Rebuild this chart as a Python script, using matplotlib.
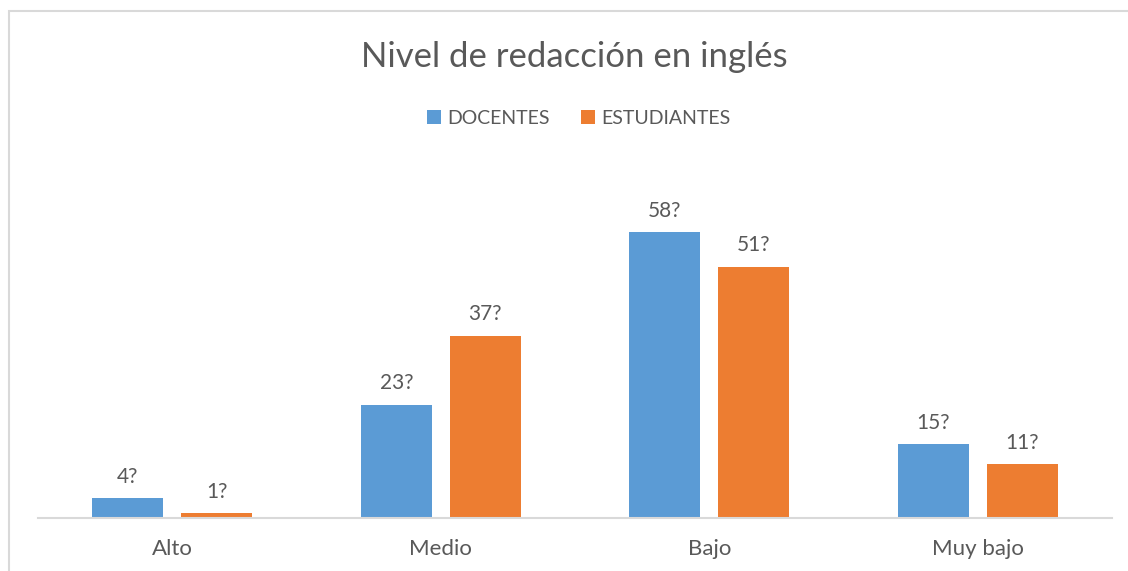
import numpy as np
import matplotlib.pyplot as plt
from matplotlib.patches import Rectangle

categorias = ['Alto', 'Medio', 'Bajo', 'Muy bajo']
docentes = [4, 23, 58, 15]
estudiantes = [1, 37, 51, 11]
etiquetas_doc = ['4?', '23?', '58?', '15?']
etiquetas_est = ['1?', '37?', '51?', '11?']

azul = '#5B9BD5'
naranja = '#ED7D31'
gris_texto = '#595959'

plt.rcParams['font.family'] = ['Lato', 'DejaVu Sans']

W, H = 1128, 571
fig = plt.figure(figsize=(W / 100, H / 100), dpi=100)

# borde del area del grafico
fig.patches.append(Rectangle((9 / W, -0.05), 1.2, (H - 11) / H + 0.05,
                             transform=fig.transFigure, fill=False,
                             edgecolor='#D9D9D9', linewidth=1.5))

# eje: x de 38 a 1112 px, linea base en y=518 px
base = 518
top = 150
ax = fig.add_axes([38 / W, (H - base) / H, (1112 - 38) / W, (base - top) / H])
ax.set_xlim(-0.5, 3.5)
ax.set_ylim(0, (base - top) / 4.93)

x = np.arange(len(categorias))
ancho = 0.264
sep = 0.067
b1 = ax.bar(x - (ancho + sep) / 2, docentes, ancho, color=azul, label='DOCENTES')
b2 = ax.bar(x + (ancho + sep) / 2, estudiantes, ancho, color=naranja, label='ESTUDIANTES')

for barras, etiq in ((b1, etiquetas_doc), (b2, etiquetas_est)):
    for b, t in zip(barras, etiq):
        ax.annotate(t, (b.get_x() + b.get_width() / 2, b.get_height()),
                    xytext=(0, 8), textcoords='offset points',
                    ha='center', va='bottom', fontsize=15, color=gris_texto)

for s in ['top', 'right', 'left']:
    ax.spines[s].set_visible(False)
ax.spines['bottom'].set_color('#D9D9D9')
ax.spines['bottom'].set_linewidth(1.5)
ax.set_yticks([])
ax.set_xticks(x)
ax.set_xticklabels(categorias, fontsize=16, color=gris_texto)
ax.tick_params(axis='x', length=0, pad=15)

fig.text(574 / W, (H - 57) / H, 'Nivel de redacción en inglés', ha='center', va='center',
         fontsize=25, color=gris_texto)
fig.legend(handles=[b1, b2], loc='center', bbox_to_anchor=(579 / W, (H - 118) / H),
           ncol=2, frameon=False, fontsize=14, labelcolor=gris_texto,
           handlelength=0.7, handleheight=0.7, handletextpad=0.35, columnspacing=1.6)

fig.savefig('out.png', dpi=100)
